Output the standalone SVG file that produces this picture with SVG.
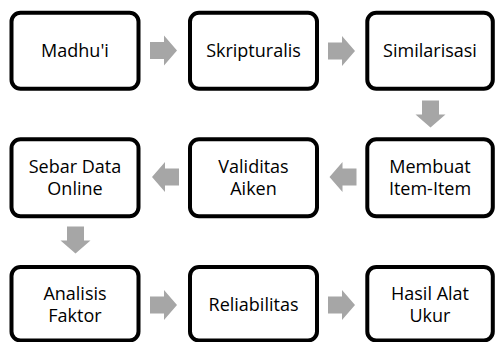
<svg xmlns="http://www.w3.org/2000/svg" xmlns:xlink="http://www.w3.org/1999/xlink" width="496" height="342" viewBox="0 0 496 342">
<style>
.box{fill:#fff;stroke:#000;stroke-width:4}
.t{font-family:"Open Sans","Liberation Sans",sans-serif;font-size:18px;fill:#000;text-anchor:middle}
.arr{fill:#a6a6a6}
</style>
<defs>
<path id="ar" d="M-13.5,-8.5 H0.5 V-15 L13.5,0 L0.5,15 V8.5 H-13.5 Z"/>
</defs>
<rect width="496" height="342" fill="#fff"/>
<g id="connectors" class="arr">
<use xlink:href="#ar" transform="translate(163.5,50.5)"/>
<use xlink:href="#ar" transform="translate(341.5,51)"/>
<use xlink:href="#ar" transform="translate(430.5,114) rotate(90)"/>
<use xlink:href="#ar" transform="translate(343,177) rotate(180)"/>
<use xlink:href="#ar" transform="translate(165.5,177) rotate(180)"/>
<use xlink:href="#ar" transform="translate(75.5,240) rotate(90)"/>
<use xlink:href="#ar" transform="translate(163.5,305)"/>
<use xlink:href="#ar" transform="translate(341.5,305)"/>
</g>
<g id="n1"><rect class="box" x="11.5" y="12.7" width="127" height="76" rx="9"/><text class="t" x="75" y="56.7">Madhu'i</text></g>
<g id="n2"><rect class="box" x="190" y="12.7" width="127" height="76" rx="9"/><text class="t" x="253.5" y="56.7">Skripturalis</text></g>
<g id="n3"><rect class="box" x="367.3" y="12.7" width="125.5" height="76" rx="9"/><text class="t" x="430" y="56.7">Similarisasi</text></g>
<g id="n4"><rect class="box" x="367.3" y="139.3" width="125.5" height="77" rx="9"/><text class="t" x="430" y="173.3">Membuat</text><text class="t" x="430" y="195">Item-Item</text></g>
<g id="n5"><rect class="box" x="190" y="139.3" width="127" height="77" rx="9"/><text class="t" x="253.5" y="173.3">Validitas</text><text class="t" x="253.5" y="195">Aiken</text></g>
<g id="n6"><rect class="box" x="11.5" y="139.3" width="127" height="77" rx="9"/><text class="t" x="75" y="173.3">Sebar Data</text><text class="t" x="75" y="195">Online</text></g>
<g id="n7"><rect class="box" x="11.5" y="267" width="127" height="73.5" rx="9"/><text class="t" x="75" y="300">Analisis</text><text class="t" x="75" y="321.7">Faktor</text></g>
<g id="n8"><rect class="box" x="190" y="267" width="127" height="73.5" rx="9"/><text class="t" x="253.5" y="311">Reliabilitas</text></g>
<g id="n9"><rect class="box" x="367.3" y="267" width="125.5" height="73.5" rx="9"/><text class="t" x="430" y="300">Hasil Alat</text><text class="t" x="430" y="321.7">Ukur</text></g>
</svg>
